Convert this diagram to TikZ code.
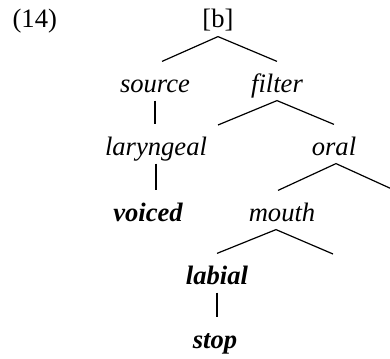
\documentclass[tikz,border=0pt]{standalone}
\usepackage{fontspec}
\setmainfont{Liberation Serif}
\tikzset{
  feat/.style={font=\fontsize{13.3}{16}\selectfont\itshape, inner sep=0pt,
    text height=15pt, text depth=4pt, anchor=base},
  bfeat/.style={feat, font=\fontsize{13.3}{16}\selectfont\bfseries\itshape},
}
\begin{document}
\begin{tikzpicture}[x=0.5pt,y=-0.5pt,line width=0.6pt]
\clip (0,0) rectangle (390,358);
\node[anchor=base west,inner sep=0pt,font=\fontsize{13.3}{16}\selectfont] (num) at (12,28) {(14)};
\node[feat,font=\fontsize{13.3}{16}\selectfont] (b) at (218,28) {[b]};
\node[feat] (source) at (155,92) {source};
\node[feat] (filter) at (277,92) {filter};
\node[feat] (laryngeal) at (156,155) {laryngeal};
\node[feat] (oral) at (334,155) {oral};
\node[bfeat] (voiced) at (148,221) {voiced};
\node[feat] (mouth) at (282,221) {mouth};
\node[bfeat] (labial) at (217,284) {labial};
\node[bfeat] (stop) at (215,348) {stop};
% empty daughters
\coordinate (filter-l) at (218,125);
\coordinate (oral-r) at (394,190);
\coordinate (mouth-r) at (333,254);
% branches
\draw (b.south) -- ([shift={(7,0)}]source.north);
\draw (b.south) -- (filter.north);
\draw (source.south) -- (source.south |- laryngeal.north);
\draw (filter-l) -- (filter.south) -- (oral.north);
\draw (laryngeal.south) -- (laryngeal.south |- voiced.north);
\draw ([shift={(-4,0)}]mouth.north) -- ([shift={(2,0)}]oral.south) -- (oral-r);
\draw (labial.north) -- ([shift={(-6,0)}]mouth.south) -- (mouth-r);
\draw (labial.south) -- (labial.south |- stop.north);
\end{tikzpicture}
\end{document}
